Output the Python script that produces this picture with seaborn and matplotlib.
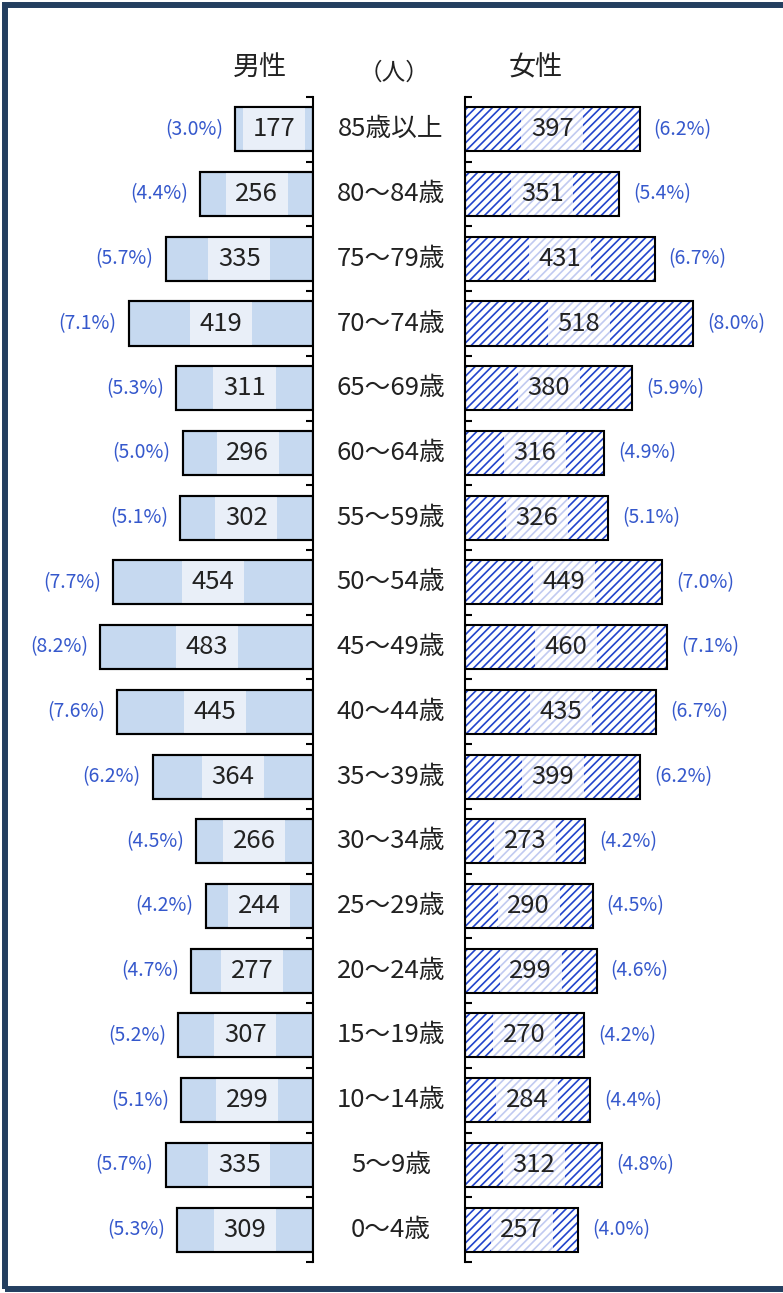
import matplotlib
matplotlib.use("Agg")
import matplotlib.pyplot as plt
import matplotlib.patches as patches
import matplotlib.transforms as mtransforms
import seaborn as sns
import pandas as pd

# Data (top row = oldest group)
age_groups = ["85歳以上", "80～84歳", "75～79歳", "70～74歳", "65～69歳", "60～64歳",
              "55～59歳", "50～54歳", "45～49歳", "40～44歳", "35～39歳", "30～34歳",
              "25～29歳", "20～24歳", "15～19歳", "10～14歳", "5～9歳", "0～4歳"]
male = [177, 256, 335, 419, 311, 296, 302, 454, 483, 445, 364, 266, 244, 277, 307, 299, 335, 309]
male_pct = [3.0, 4.4, 5.7, 7.1, 5.3, 5.0, 5.1, 7.7, 8.2, 7.6, 6.2, 4.5, 4.2, 4.7, 5.2, 5.1, 5.7, 5.3]
female = [397, 351, 431, 518, 380, 316, 326, 449, 460, 435, 399, 273, 290, 299, 270, 284, 312, 257]
female_pct = [6.2, 5.4, 6.7, 8.0, 5.9, 4.9, 5.1, 7.0, 7.1, 6.7, 6.2, 4.2, 4.5, 4.6, 4.2, 4.4, 4.8, 4.0]

df = pd.DataFrame({"age": age_groups, "male": male, "female": female})

sns.set_style("white")
plt.rcParams["font.family"] = ["Noto Sans CJK JP", "DejaVu Sans"]
plt.rcParams["hatch.linewidth"] = 1.2

W, H = 783, 1293
fig = plt.figure(figsize=(W / 100, H / 100), dpi=100)

XMAX = 600
BAR_H = 0.68
BOX_W = 141  # width of the label background, in data units
pct_color = "#3558CC"
male_fill = "#C6D9F0"
male_box = "#E9EFF8"
hatch_blue = "#2244CC"

ax_m = fig.add_axes([0.0626, 0.024, 0.337, 0.901])
ax_f = fig.add_axes([0.5939, 0.024, 0.337, 0.901])

# Male side
sns.barplot(data=df, x="male", y="age", orient="h", ax=ax_m, color=male_fill,
            saturation=1, width=BAR_H, edgecolor="black", linewidth=1.5, zorder=1)
ypos = list(range(len(age_groups)))
ax_m.barh(ypos, [BOX_W] * len(male), left=[v / 2 - BOX_W / 2 for v in male],
          height=BAR_H - 0.03, color=male_box, linewidth=0, zorder=2)
ax_m.barh(ypos, male, height=BAR_H, fill=False, edgecolor="black", linewidth=1.5, zorder=3)
ax_m.set_xlim(XMAX, 0)

# Female side
sns.barplot(data=df, x="female", y="age", orient="h", ax=ax_f, color="white",
            saturation=1, width=BAR_H, linewidth=0, zorder=1)
for p in ax_f.patches:
    p.set_hatch("////")
    p.set_edgecolor(hatch_blue)
    p.set_facecolor("white")
ax_f.barh(ypos, [BOX_W] * len(female), left=[v / 2 - BOX_W / 2 for v in female],
          height=BAR_H - 0.03, color="white", alpha=0.72, linewidth=0, zorder=2)
ax_f.barh(ypos, female, height=BAR_H, fill=False, edgecolor="black", linewidth=1.5, zorder=3)
ax_f.set_xlim(0, XMAX)

for ax, side in [(ax_m, "right"), (ax_f, "left")]:
    ax.set_ylim(len(age_groups) - 0.5, -0.5)
    ax.set_xlabel("")
    ax.set_ylabel("")
    ax.set_xticks([])
    ax.set_yticks([i - 0.5 for i in range(len(age_groups) + 1)])
    ax.set_yticklabels([])
    for s in ["top", "bottom", "left", "right"]:
        ax.spines[s].set_visible(s == side)
    ax.spines[side].set_linewidth(1.5)
    ax.spines[side].set_color("black")
    ax.yaxis.set_ticks_position(side)
    ax.tick_params(axis="y", direction="in", length=5, width=1.5, color="black")
    ax.set_facecolor("none")

# Labels
for i in range(len(age_groups)):
    ax_m.text(male[i] / 2, i, str(male[i]), ha="center", va="center",
              fontsize=18.5, color="#222222", zorder=4)
    ax_m.annotate(f"({male_pct[i]:.1f}%)", xy=(male[i], i), xytext=(-12, 0),
                  textcoords="offset pixels", ha="right", va="center",
                  fontsize=14, color=pct_color)
    ax_f.text(female[i] / 2, i, str(female[i]), ha="center", va="center",
              fontsize=18.5, color="#222222", zorder=4)
    ax_f.annotate(f"({female_pct[i]:.1f}%)", xy=(female[i], i), xytext=(14, 0),
                  textcoords="offset pixels", ha="left", va="center",
                  fontsize=14, color=pct_color)

mid = mtransforms.blended_transform_factory(fig.transFigure, ax_m.transData)
for i, lab in enumerate(age_groups):
    fig.text(391 / W, i, lab, transform=mid, ha="center", va="center",
             fontsize=18.5, color="#222222")

# Headers
fig.text(260 / W, 1 - 68 / H, "男性", ha="center", va="center", fontsize=19.5, color="#222222")
fig.text(394 / W, 1 - 73 / H, "（人）", ha="center", va="center", fontsize=17, color="#222222")
fig.text(536 / W, 1 - 68 / H, "女性", ha="center", va="center", fontsize=19.5, color="#222222")

# Frame around the panel
frame = patches.Rectangle((5 / W, 4 / H), 800 / W, (H - 9) / H, transform=fig.transFigure,
                          fill=False, edgecolor="#243F60", linewidth=4.3)
fig.patches.append(frame)

fig.savefig("out.png", dpi=100)
